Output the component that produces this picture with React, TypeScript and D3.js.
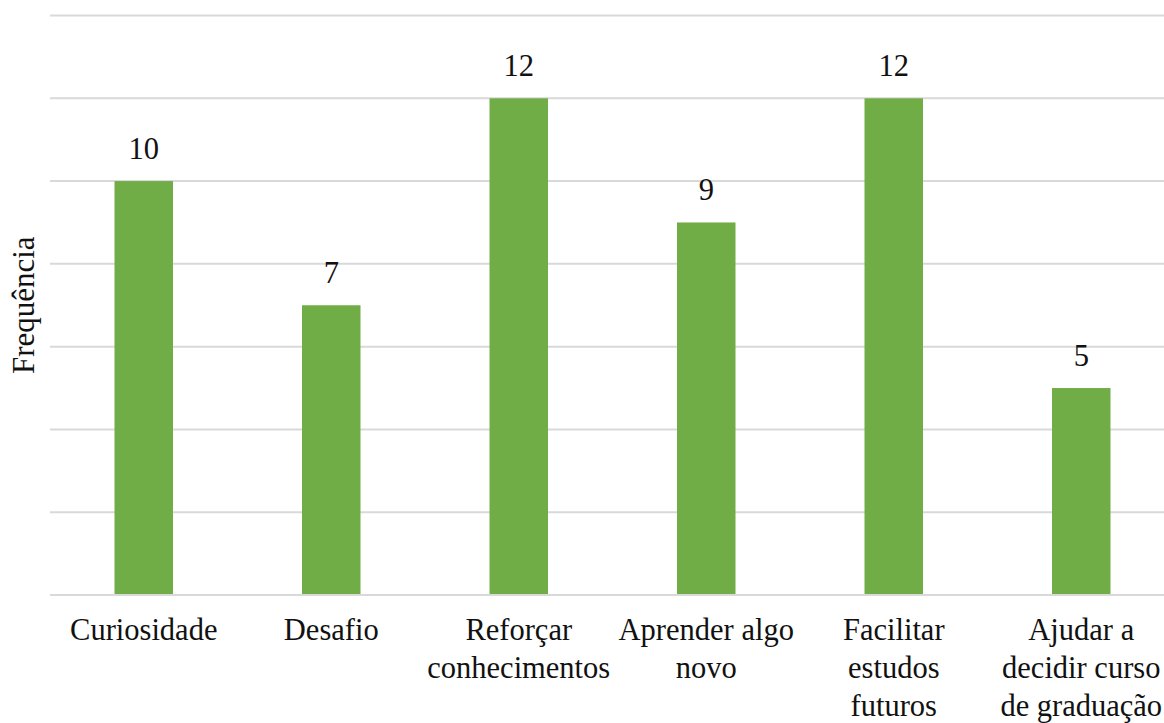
import React from "react";
import * as d3 from "d3";

const categories: string[][] = [
  ["Curiosidade"],
  ["Desafio"],
  ["Reforçar", "conhecimentos"],
  ["Aprender algo", "novo"],
  ["Facilitar", "estudos", "futuros"],
  ["Ajudar a", "decidir curso", "de graduação"],
];
const values: number[] = [10, 7, 12, 9, 12, 5];
const yTicks: number[] = [0, 2, 4, 6, 8, 10, 12, 14];
const yTitle = "Frequência";

const W = 1164;
const H = 723;
const FONT = "Liberation Serif";

export default function App() {
  const keys = categories.map((c) => c.join(" "));
  const x = d3
    .scaleBand<string>()
    .domain(keys)
    .range([50, 1175])
    .paddingInner(0.688)
    .paddingOuter(0.344);
  const y = d3.scaleLinear().domain([0, 14]).range([595, 15.5]);
  const grid = yTicks.filter((t) => t !== 0);
  const textStyle = { fontFamily: FONT, fontSize: 30.5, fill: "#111" } as React.CSSProperties;

  return (
    <div style={{ position: "absolute", left: 0, top: 0, width: W, height: H, overflow: "hidden", background: "#fff" }}>
      <svg width={W} height={H} style={{ display: "block", overflow: "hidden" }}>
        <rect x={0} y={0} width={W} height={H} fill="#fff" />
        {grid.map((t) => (
          <line key={t} x1={50} x2={W} y1={y(t)} y2={y(t)} stroke="#d9d9d9" strokeWidth={2} />
        ))}
        {values.map((v, i) => (
          <rect
            key={keys[i]}
            x={x(keys[i])!}
            y={y(v)}
            width={x.bandwidth()}
            height={y(0) - y(v)}
            fill="#70ad47"
          />
        ))}
        <line x1={50} x2={W} y1={y(0)} y2={y(0)} stroke="#d9d9d9" strokeWidth={2} />
        {values.map((v, i) => (
          <text
            key={"v" + i}
            x={x(keys[i])! + x.bandwidth() / 2}
            y={y(v) - 22}
            textAnchor="middle"
            style={textStyle}
          >
            {v}
          </text>
        ))}
        {categories.map((lines, i) => (
          <text
            key={"c" + i}
            x={x(keys[i])! + x.bandwidth() / 2}
            y={640}
            textAnchor="middle"
            style={textStyle}
          >
            {lines.map((l, j) => (
              <tspan key={j} x={x(keys[i])! + x.bandwidth() / 2} dy={j === 0 ? 0 : 38}>
                {l}
              </tspan>
            ))}
          </text>
        ))}
        <text
          transform={`translate(34, ${(y(0) + y(14)) / 2}) rotate(-90)`}
          textAnchor="middle"
          style={{ ...textStyle, fontSize: 31 }}
        >
          {yTitle}
        </text>
      </svg>
    </div>
  );
}
